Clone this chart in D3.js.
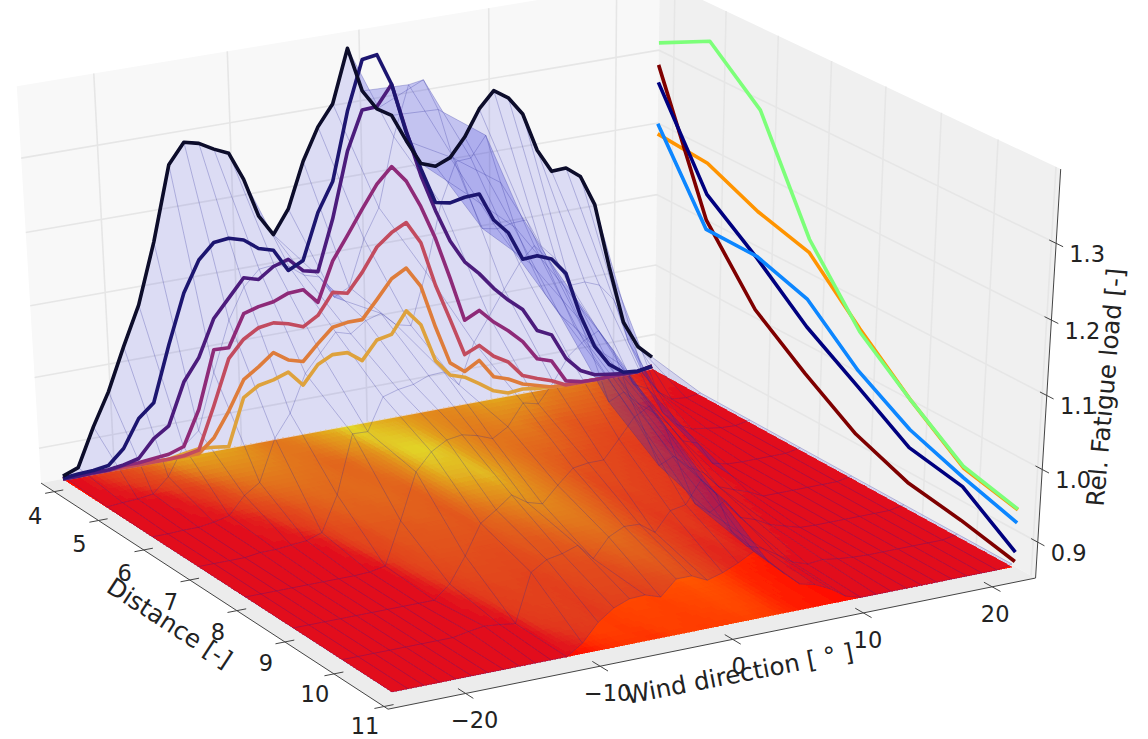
<!DOCTYPE html>
<html>
<head>
<meta charset="utf-8">
<script src="https://cdn.jsdelivr.net/npm/d3@7"></script>
<style>
body { margin: 0; background: #fff; }
text { font-family: "DejaVu Sans", sans-serif; fill: #222; }
</style>
</head>
<body>
<div id="chart"></div>
<script>
// wind direction grid of the load tables
var windDirs = [-24, -22.82, -21.64, -20.46, -19.28, -18.1, -16.92, -15.74, -14.56, -13.38, -12.2, -11.02, -9.84, -8.66, -7.48, -6.3, -5.12, -3.94, -2.76, -1.58, -0.4, 0.78, 1.96, 3.14, 4.32, 5.5, 6.68, 7.86, 9.04, 10.22, 11.4, 12.58, 13.76, 14.94, 16.12, 17.3, 18.48, 19.66, 20.84, 22.02, 23.2];
var distances = [3.7, 4.7, 5.7, 6.7, 7.7, 8.7, 9.7, 10.7];

// load against wind direction, one list per distance
var load4 = [.854, .862, .915, .960, 1.018, 1.071, 1.152, 1.251, 1.277, 1.272, 1.261, 1.252, 1.214, 1.162, 1.133, 1.164, 1.224, 1.266, 1.293, 1.362, 1.303, 1.276, 1.264, 1.227, 1.193, 1.186, 1.194, 1.218, 1.252, 1.273, 1.260, 1.235, 1.183, 1.151, 1.152, 1.137, 1.095, 1.006, .924, .886, .867];
var load5 = [.851, .853, .854, .857, .877, .915, .933, 1.009, 1.076, 1.117, 1.137, 1.139, 1.133, 1.118, 1.112, 1.081, 1.091, 1.152, 1.190, 1.280, 1.344, 1.347, 1.305, 1.238, 1.186, 1.137, 1.133, 1.137, 1.138, 1.099, 1.078, 1.038, 1.039, 1.031, 1.007, .945, .897, .868, .853, .851, .854];
var load6 = [.850, .850, .851, .851, .854, .859, .883, .897, .954, .984, 1.034, 1.058, 1.082, 1.076, 1.090, 1.096, 1.077, 1.072, 1.140, 1.227, 1.278, 1.279, 1.305, 1.240, 1.177, 1.126, 1.081, 1.049, 1.029, 1.005, .985, .968, .935, .925, .888, .867, .857, .854, .851, .850, .854];
var load7 = [.850, .850, .850, .850, .853, .853, .855, .857, .864, .912, .991, .990, 1.033, 1.039, 1.042, 1.050, 1.051, 1.030, 1.083, 1.114, 1.146, 1.176, 1.196, 1.173, 1.135, 1.088, 1.030, .968, .978, .958, .942, .923, .895, .888, .856, .851, .850, .850, .850, .850, .854];
var load8 = [.850, .850, .850, .850, .850, .850, .850, .850, .851, .855, .913, .975, .998, 1.010, 1.013, 1.008, 1.000, 1.012, 1.040, 1.035, 1.060, 1.091, 1.107, 1.117, 1.086, 1.024, .973, .920, .929, .910, .898, .875, .867, .860, .850, .850, .850, .850, .850, .850, .854];
var load9 = [.850, .850, .850, .850, .850, .850, .850, .850, .850, .850, .868, .902, .942, .956, .972, .958, .952, .973, .992, .995, .995, 1.019, 1.044, 1.055, 1.026, .966, .912, .896, .908, .881, .874, .863, .857, .851, .850, .850, .850, .850, .850, .850, .854];
var load10 = [.850, .850, .850, .850, .850, .850, .850, .850, .854, .857, .855, .852, .917, .930, .934, .941, .919, .944, .954, .953, .938, .963, .967, .996, .973, .919, .895, .888, .875, .861, .854, .856, .853, .851, .850, .850, .850, .850, .850, .850, .854];
var load11 = [.850, .850, .850, .850, .850, .850, .850, .850, .850, .850, .850, .850, .864, .888, .903, .911, .912, .905, .925, .925, .915, .921, .930, .941, .922, .903, .885, .880, .870, .856, .850, .850, .850, .850, .850, .850, .850, .850, .850, .850, .854];
var loadRows = [load4, load5, load6, load7, load8, load9, load10, load11];
var curveColors = ["#0a0a2c", "#1e1470", "#4c1a7c", "#8e2a78", "#c24c5e", "#de7c3a", "#dea23c"];

// load against distance at the far wind direction
var lineLime = [1.310, 1.345, 1.286, 1.146, 1.056, .999, .948, .930];
var lineMaroon = [1.280, 1.100, 1.011, .959, .913, .885, .873, .857];
var lineNavy = [1.256, 1.136, 1.084, 1.025, .980, .934, .920, .870];
var lineBlue = [1.199, 1.087, 1.086, 1.063, 1.002, .959, .933, .911];
var lineOrange = [1.185, 1.179, 1.148, 1.128, 1.060, .999, .946, .929];

var windTicks = [-20, -10, 0, 10, 20];
var distTicks = [4, 5, 6, 7, 8, 9, 10, 11];
var loadTicks = [.9, 1.0, 1.1, 1.2, 1.3];

var width = 1148, height = 739;
var loadMin = .85, loadMax = 1.395;
var windLo = -25.7, windHi = 23.4, distLo = 3.7, distHi = 11.08;

var windScale = d3.scaleLinear().domain([-24, 23.2]).range([0, 1]);
var distScale = d3.scaleLinear().domain([3.7, 10.7]).range([0, 1]);
var loadScale = d3.scaleLinear().domain([loadMin, loadMax]).range([0, 1]);
// the surface reads a touch taller than the wall ticks
var surfaceScale = d3.scaleLinear().domain([loadMin, loadMax]).range([0, 1.025]);
var floorColor = d3.scaleLinear()
    .domain([.85, .88, .92, 1.0, 1.1, 1.25, 1.36])
    .range(["#ff0800", "#ff1900", "#ff3c00", "#ff5200", "#ff7600", "#ffb100", "#fff810"])
    .clamp(true);

// camera: the floor corners on screen, plus the point the verticals run to
var cornerA = [63, 479], cornerB = [652, 369], cornerC = [1012, 567], cornerD = [392, 692];
var vanish = [540, 8640];
var cam = makeCamera(cornerA, cornerB, cornerC, cornerD);

function makeCamera(p0, p1, p2, p3) {
    var dx1 = p1[0] - p2[0], dx2 = p3[0] - p2[0], sx = p0[0] - p1[0] + p2[0] - p3[0];
    var dy1 = p1[1] - p2[1], dy2 = p3[1] - p2[1], sy = p0[1] - p1[1] + p2[1] - p3[1];
    var den = dx1 * dy2 - dx2 * dy1;
    var g = (sx * dy2 - dx2 * sy) / den;
    var h = (dx1 * sy - sx * dy1) / den;
    var c = {
        a: p1[0] - p0[0] + g * p1[0], b: p3[0] - p0[0] + h * p3[0], c: p0[0],
        d: p1[1] - p0[1] + g * p1[1], e: p3[1] - p0[1] + h * p3[1], f: p0[1],
        g: g, h: h
    };
    // height factor taken from the right hand vertical axis
    var w = g * windScale(windHi) + h * distScale(distHi) + 1;
    c.k = -w * (577 - 168) / (vanish[1] - 168);
    return c;
}

function projectRaw(wind, dist, height01) {
    var u = windScale(wind), v = distScale(dist), t = cam.k * height01;
    var w = cam.g * u + cam.h * v + 1 + t;
    return [
        (cam.a * u + cam.b * v + cam.c + t * vanish[0]) / w,
        (cam.d * u + cam.e * v + cam.f + t * vanish[1]) / w
    ];
}

function project(wind, dist, load) {
    return projectRaw(wind, dist, loadScale(load));
}

// surface points stay straight above their floor point
function projectSurface(wind, dist, load) {
    return [projectRaw(wind, dist, 0)[0], projectRaw(wind, dist, surfaceScale(load))[1]];
}

var svg = d3.select("#chart").append("svg")
    .attr("width", width)
    .attr("height", height)
    .style("display", "block");

var defs = svg.append("defs");
defs.append("filter").attr("id", "soft")
    .append("feGaussianBlur").attr("stdDeviation", 0.55);

var plot = svg.append("g").attr("filter", "url(#soft)");
var line = d3.line();

function polygon(parent, pts, fill, opacity) {
    return parent.append("path")
        .attr("d", line(pts) + "Z")
        .attr("fill", fill)
        .attr("fill-opacity", opacity === undefined ? 1 : opacity);
}

// the three panes
polygon(plot, [project(windLo, distLo, loadMin), project(windHi, distLo, loadMin), project(windHi, distLo, loadMax), project(windLo, distLo, loadMax)], "#f8f8f8");
polygon(plot, [project(windHi, distLo, loadMin), project(windHi, distHi, loadMin), project(windHi, distHi, loadMax), project(windHi, distLo, loadMax)], "#f0f0f0");
polygon(plot, [project(windLo, distLo, loadMin), project(windHi, distLo, loadMin), project(windHi, distHi, loadMin), project(windLo, distHi, loadMin)], "#ececec");

// grid lines on the walls
var grid = plot.append("g").attr("fill", "none").attr("stroke", "#e6e6e6").attr("stroke-width", 1.6);
windTicks.forEach(function (d) {
    grid.append("path").attr("d", line([project(d, distLo, loadMin), project(d, distLo, loadMax)]));
});
distTicks.forEach(function (d) {
    grid.append("path").attr("d", line([project(windHi, d, loadMin), project(windHi, d, loadMax)]));
});
loadTicks.forEach(function (d) {
    grid.append("path").attr("d", line([project(windLo, distLo, d), project(windHi, distLo, d), project(windHi, distHi, d)]));
});

// filled contours on the floor, each table cell split into small patches
var floor = plot.append("g").attr("shape-rendering", "crispEdges");
var windSteps = 3, distSteps = 8;
for (var r = 0; r < distances.length - 1; r++) {
    for (var c = 0; c < windDirs.length - 1; c++) {
        for (var a = 0; a < windSteps; a++) {
            for (var b = 0; b < distSteps; b++) {
                var w0 = windDirs[c] + (windDirs[c + 1] - windDirs[c]) * a / windSteps;
                var w1 = windDirs[c] + (windDirs[c + 1] - windDirs[c]) * (a + 1) / windSteps;
                var d0 = distances[r] + (distances[r + 1] - distances[r]) * b / distSteps;
                var d1 = distances[r] + (distances[r + 1] - distances[r]) * (b + 1) / distSteps;
                var fu = (a + .5) / windSteps, fv = (b + .5) / distSteps;
                var rowNear = loadRows[r][c] * (1 - fu) + loadRows[r][c + 1] * fu;
                var rowFar = loadRows[r + 1][c] * (1 - fu) + loadRows[r + 1][c + 1] * fu;
                var col = floorColor(rowNear * (1 - fv) + rowFar * fv);
                polygon(floor, [project(w0, d0, loadMin), project(w1, d0, loadMin), project(w1, d1, loadMin), project(w0, d1, loadMin)], col)
                    .attr("stroke", col).attr("stroke-width", .6);
            }
        }
    }
}
plot.append("path")
    .attr("d", line([project(-24, 3.7, loadMin), project(23.2, 3.7, loadMin)]))
    .attr("fill", "none").attr("stroke", "#fff").attr("stroke-width", 1.2).attr("stroke-opacity", .8);

// translucent surface with its wire mesh
var surface = plot.append("g");
loadRows.forEach(function (row, r) {
    if (r == loadRows.length - 1) return;
    row.forEach(function (val, c) {
        if (c == row.length - 1) return;
        polygon(surface, [
            projectSurface(windDirs[c], distances[r], val),
            projectSurface(windDirs[c + 1], distances[r], row[c + 1]),
            projectSurface(windDirs[c + 1], distances[r + 1], loadRows[r + 1][c + 1]),
            projectSurface(windDirs[c], distances[r + 1], loadRows[r + 1][c])
        ], "#2424db", .135);
    });
});
var wire = plot.append("g").attr("fill", "none").attr("stroke", "#2a2a9c").attr("stroke-opacity", .34).attr("stroke-width", .8);
loadRows.forEach(function (row, r) {
    wire.append("path").attr("d", line(row.map(function (val, c) {
        return projectSurface(windDirs[c], distances[r], val);
    })));
});
windDirs.forEach(function (wd, c) {
    wire.append("path").attr("d", line(loadRows.map(function (row, r) {
        return projectSurface(wd, distances[r], row[c]);
    })));
});

// the load curves, laid on the back left wall, gold first and black last
curveColors.slice().reverse().forEach(function (color, n) {
    var r = curveColors.length - 1 - n;
    plot.append("path")
        .attr("d", line(loadRows[r].map(function (val, c) {
            return projectSurface(windDirs[c], distLo, val);
        })))
        .attr("fill", "none").attr("stroke", color).attr("stroke-width", 3.6).attr("stroke-linejoin", "round");
});

// the five lines on the right wall
var wallLines = [
    {values: lineOrange, color: "#ff9400"},
    {values: lineLime, color: "#7cff79"},
    {values: lineMaroon, color: "#7f0000"},
    {values: lineNavy, color: "#00007f"},
    {values: lineBlue, color: "#0a86ff"}
];
wallLines.forEach(function (l) {
    plot.append("path")
        .attr("d", line(l.values.map(function (val, i) {
            return project(windHi, distances[i], val);
        })))
        .attr("fill", "none").attr("stroke", l.color).attr("stroke-width", 3.6).attr("stroke-linejoin", "round");
});

// axis lines and ticks
var axes = plot.append("g").attr("fill", "none").attr("stroke", "#444").attr("stroke-width", 1);
axes.append("path").attr("d", line([project(windLo, distLo, loadMin), project(windLo, distHi, loadMin), project(windHi, distHi, loadMin)]));
axes.append("path").attr("d", line([project(windHi, distHi, loadMin), project(windHi, distHi, loadMax)]));

function tickLabel(pos, txt, dx, dy) {
    svg.append("text")
        .attr("x", pos[0] + dx)
        .attr("y", pos[1] + dy)
        .attr("text-anchor", "middle")
        .attr("font-size", 22.5)
        .text(txt);
}

windTicks.forEach(function (d) {
    axes.append("path").attr("d", line([project(d, distHi - .15, loadMin), project(d, distHi + .15, loadMin)]));
    tickLabel(project(d, distHi, loadMin), d < 0 ? "\u2212" + Math.abs(d) : d, 9 - (d + 20) * .15, 35);
});
distTicks.forEach(function (d) {
    axes.append("path").attr("d", line([project(windLo + .7, d, loadMin), project(windLo - .7, d, loadMin)]));
    tickLabel(project(windLo, d, loadMin), d, -19, 32 - (d - 4) * .6);
});
loadTicks.forEach(function (d) {
    axes.append("path").attr("d", line([project(windHi, distHi - .12, d), project(windHi, distHi + .12, d)]));
    tickLabel(project(windHi, distHi, d), d.toFixed(1), 31, 19);
});

function axisTitle(x, y, angle, txt) {
    svg.append("text")
        .attr("transform", "translate(" + x + "," + y + ") rotate(" + angle + ")")
        .attr("text-anchor", "middle")
        .attr("font-size", 24.5)
        .text(txt);
}
axisTitle(741, 682, -11, "Wind direction [ \u00b0 ]");
axisTitle(165, 630, 33, "Distance [-]");
axisTitle(1114, 388, -85, "Rel. Fatigue load [-]");
</script>
</body>
</html>
